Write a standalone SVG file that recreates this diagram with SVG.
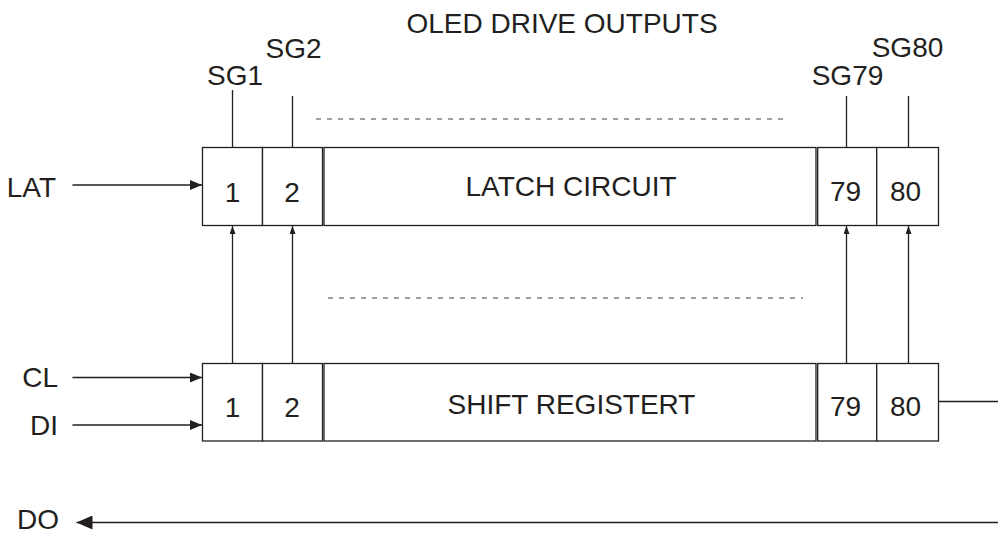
<svg xmlns="http://www.w3.org/2000/svg" width="998" height="535" viewBox="0 0 998 535">
<style>
text{font-family:"Liberation Sans",Arial,sans-serif;font-size:28px;fill:#231f20}
.c{text-anchor:middle}
.e{text-anchor:end}
.box{fill:#fff;stroke:#231f20;stroke-width:1.3}
.ln{stroke:#231f20;stroke-width:1.3;fill:none}
.dash{stroke:#444;stroke-width:1.2;stroke-dasharray:5 6;fill:none}
</style>
<defs>
<marker id="ah" viewBox="0 0 12 10" refX="12" refY="5" markerWidth="12" markerHeight="10" markerUnits="userSpaceOnUse" orient="auto">
<path d="M0,0 L12,5 L0,10 Z" fill="#231f20"/>
</marker>
<marker id="ahs" viewBox="0 0 8 6" refX="8" refY="3" markerWidth="8" markerHeight="6" markerUnits="userSpaceOnUse" orient="auto">
<path d="M0,0 L8,3 L0,6 Z" fill="#231f20"/>
</marker>
<marker id="ahb" viewBox="0 0 16 14" refX="16" refY="7" markerWidth="16" markerHeight="14" markerUnits="userSpaceOnUse" orient="auto">
<path d="M0,0 L16,7 L0,14 Z" fill="#231f20"/>
</marker>
</defs>

<text class="c" x="562" y="33">OLED DRIVE OUTPUTS</text>

<g id="latch">
<rect class="box" x="202.5" y="147.5" width="60" height="78"/>
<rect class="box" x="262.5" y="147.5" width="60" height="78"/>
<rect class="box" x="324" y="147.5" width="492" height="78"/>
<rect class="box" x="817.7" y="147.5" width="59" height="78"/>
<rect class="box" x="876.7" y="147.5" width="61.8" height="78"/>
<text class="c" x="232.5" y="202">1</text>
<text class="c" x="292" y="202">2</text>
<text class="c" x="571" y="196">LATCH CIRCUIT</text>
<text class="c" x="845.5" y="201">79</text>
<text class="c" x="905.5" y="201">80</text>
</g>

<g id="shift">
<rect class="box" x="202.5" y="363.5" width="60" height="77.5"/>
<rect class="box" x="262.5" y="363.5" width="60" height="77.5"/>
<rect class="box" x="324" y="363.5" width="492" height="77.5"/>
<rect class="box" x="817.7" y="363.5" width="59" height="77.5"/>
<rect class="box" x="876.7" y="363.5" width="61.8" height="77.5"/>
<text class="c" x="232.5" y="417">1</text>
<text class="c" x="292" y="417">2</text>
<text class="c" x="571.5" y="414">SHIFT REGISTERT</text>
<text class="c" x="845.5" y="416">79</text>
<text class="c" x="905.5" y="416">80</text>
</g>

<g id="labels">
<text class="c" x="235" y="85">SG1</text>
<text class="c" x="293.5" y="58">SG2</text>
<text class="c" x="847.5" y="85">SG79</text>
<text class="c" x="907.5" y="57">SG80</text>
<text class="e" x="56" y="197">LAT</text>
<text class="e" x="58" y="387">CL</text>
<text class="e" x="58" y="435">DI</text>
<text x="17" y="529">DO</text>
</g>

<g id="connectors">
<line class="ln" x1="232.5" y1="90" x2="232.5" y2="147.5"/>
<line class="ln" x1="292.5" y1="96" x2="292.5" y2="147.5"/>
<line class="ln" x1="846.5" y1="96" x2="846.5" y2="147.5"/>
<line class="ln" x1="908.5" y1="96" x2="908.5" y2="147.5"/>
<line class="dash" x1="316" y1="119" x2="788" y2="119"/>
<line class="dash" x1="328" y1="298" x2="803" y2="298"/>
<line class="ln" x1="232.5" y1="363.5" x2="232.5" y2="226" marker-end="url(#ahs)"/>
<line class="ln" x1="292.5" y1="363.5" x2="292.5" y2="226" marker-end="url(#ahs)"/>
<line class="ln" x1="846.5" y1="363.5" x2="846.5" y2="226" marker-end="url(#ahs)"/>
<line class="ln" x1="908.5" y1="363.5" x2="908.5" y2="226" marker-end="url(#ahs)"/>
<line class="ln" x1="72.5" y1="185" x2="202" y2="185" marker-end="url(#ah)"/>
<line class="ln" x1="72.5" y1="377.5" x2="202" y2="377.5" marker-end="url(#ah)"/>
<line class="ln" x1="72.5" y1="425" x2="202" y2="425" marker-end="url(#ah)"/>
<line class="ln" x1="938.5" y1="401.5" x2="998" y2="401.5"/>
<line class="ln" x1="998" y1="522.5" x2="76.5" y2="522.5" marker-end="url(#ahb)"/>
</g>
</svg>
